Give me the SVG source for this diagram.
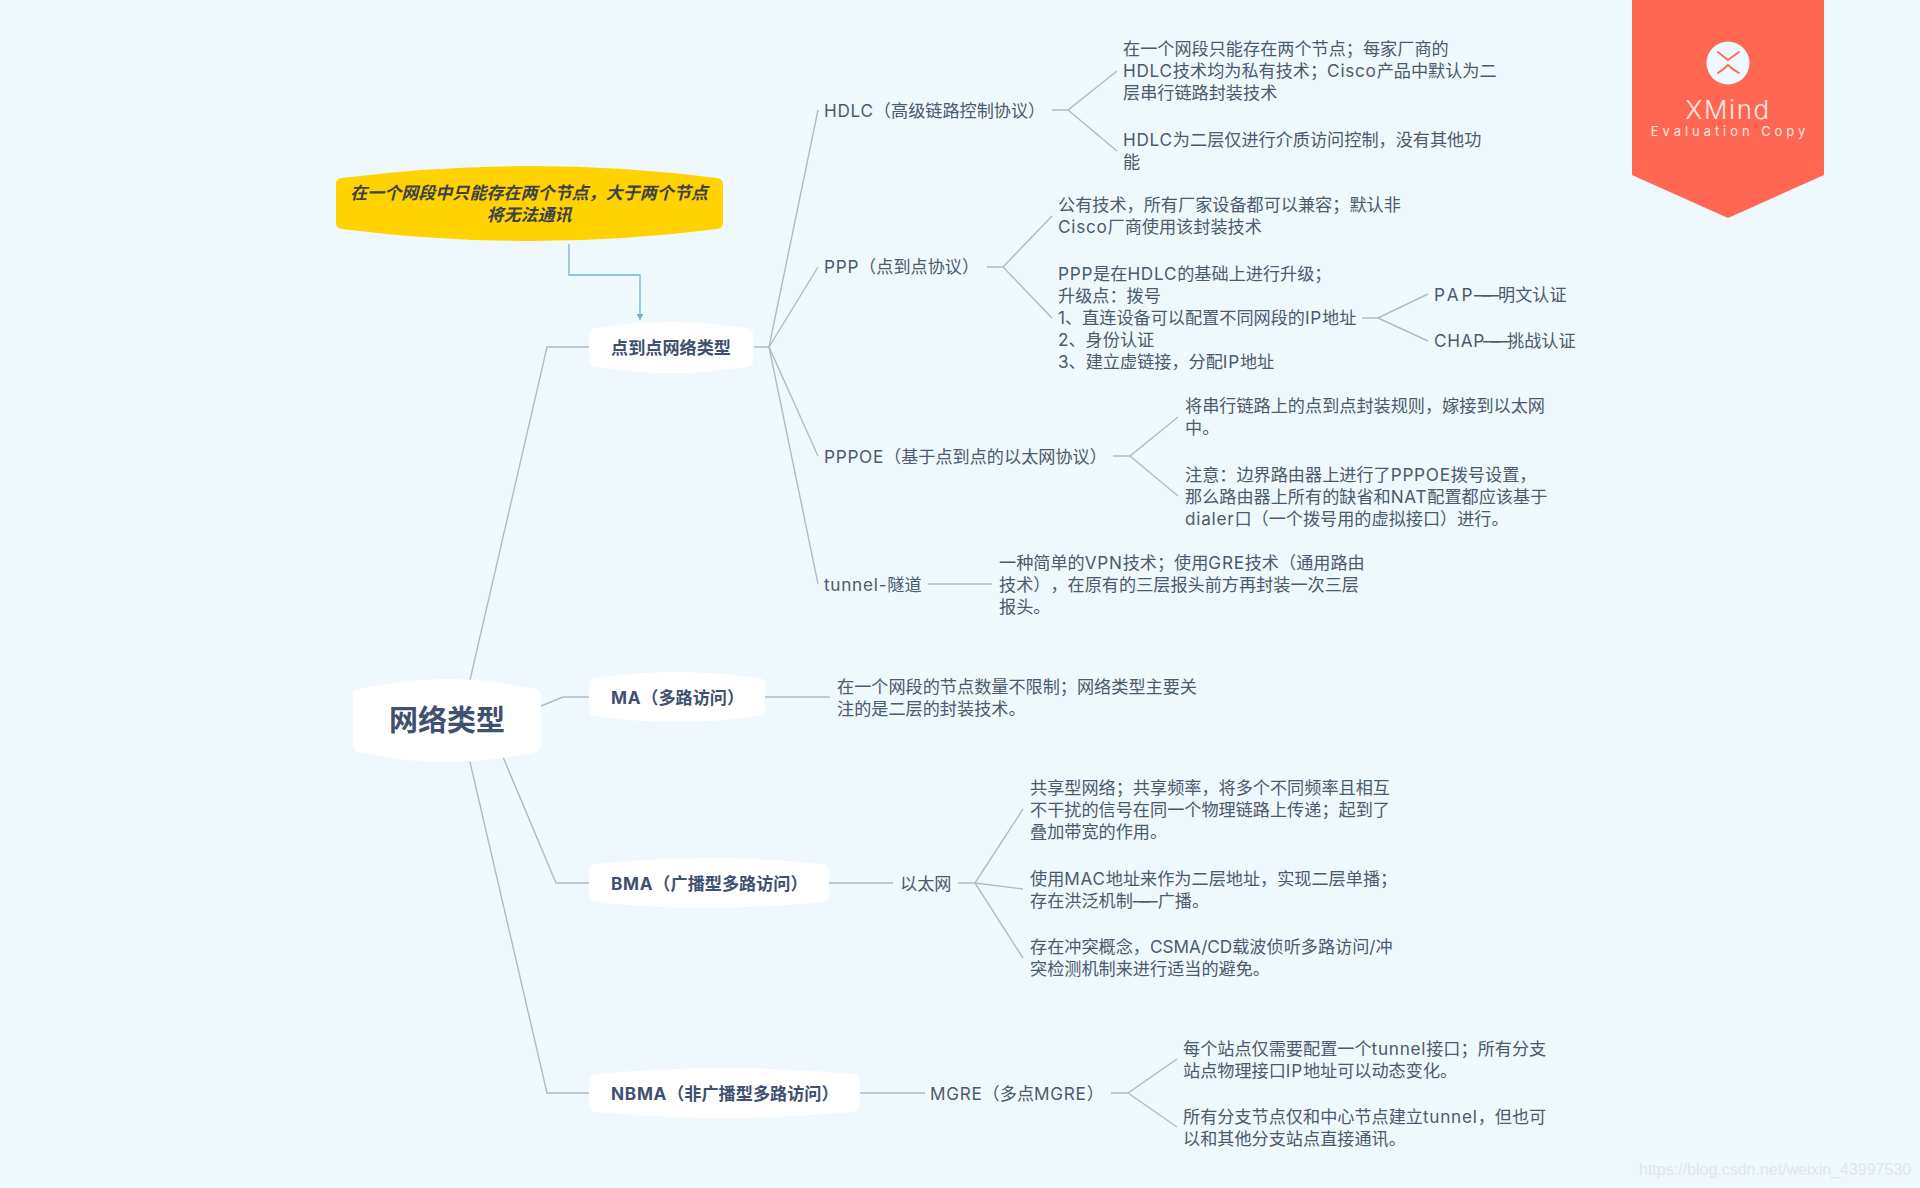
<svg xmlns="http://www.w3.org/2000/svg" width="1920" height="1188" viewBox="0 0 1920 1188">
<defs>
<marker id="arr" markerUnits="userSpaceOnUse" markerWidth="8" markerHeight="8" refX="6" refY="3.5" orient="auto"><path d="M0,0 L6,3.5 L0,7 Z" fill="#6fb2dc"/></marker>
</defs>
<style>
text{font-family:"Inter","Noto Sans CJK SC",sans-serif;text-spacing-trim:space-all}
.t{font-size:17.15px;fill:#4b5a6e}
.m{font-size:17.15px;font-weight:700;fill:#3f5070}
.l{letter-spacing:.75px}
.c{fill:none;stroke:#b0bac5;stroke-width:1.4}
.w{fill:#fff}
</style>
<rect width="1920" height="1188" fill="#eff8fc"/>
<g id="connectors">
<path class="c" d="M470,680 L547,347 H589"/>
<path class="c" d="M541,706 L563,697 H589"/>
<path class="c" d="M503,757 L556,883 H589"/>
<path class="c" d="M470,762 L547,1093 H589"/>
<path class="c" d="M754,347 H769 L818,110"/>
<path class="c" d="M769,347 L818,267"/>
<path class="c" d="M769,347 L818,456"/>
<path class="c" d="M769,347 L818,584"/>
<path class="c" d="M1052,110 H1068 L1117,71"/>
<path class="c" d="M1068,110 L1117,151"/>
<path class="c" d="M987,267 H1003 L1052,216"/>
<path class="c" d="M1003,267 L1052,318"/>
<path class="c" d="M1362,318 H1378 L1428,294"/>
<path class="c" d="M1378,318 L1428,341"/>
<path class="c" d="M1113,456 H1130 L1178,417"/>
<path class="c" d="M1130,456 L1178,496"/>
<path class="c" d="M928,584 H992"/>
<path class="c" d="M765,697 H830"/>
<path class="c" d="M829,883 H893"/>
<path class="c" d="M958,883 H975 L1023,809"/>
<path class="c" d="M975,883 L1023,889"/>
<path class="c" d="M975,883 L1023,958"/>
<path class="c" d="M860,1093 H925"/>
<path class="c" d="M1111,1093 H1128 L1177,1059"/>
<path class="c" d="M1128,1093 L1177,1127"/>
<path d="M569,244 V275 H640 V320" fill="none" stroke="#6fb2dc" stroke-width="1.3" marker-end="url(#arr)"/>
</g>
<g id="callout">
<path d="M336,184 Q336,179 342,178 Q529,154 717,178 Q723,179 723,184 L723,223 Q723,228 717,229 Q529,253 342,229 Q336,228 336,223 Z" fill="#ffd200"/>
<text x="529" y="199" text-anchor="middle" font-size="17.05" font-weight="700" font-style="italic" fill="#3d4148">在一个网段中只能存在两个节点，大于两个节点</text>
<text x="529" y="221" text-anchor="middle" font-size="17.05" font-weight="700" font-style="italic" fill="#3d4148">将无法通讯</text>
</g>
<g id="root">
<path class="w" d="M353,695 Q353,690 359,689 Q447,669 535,689 Q541,690 541,695 L541,746 Q541,751 535,752 Q447,772 359,752 Q353,751 353,746 Z"/>
<text x="447" y="731" text-anchor="middle" font-size="29" font-weight="700" fill="#3f5070">网络类型</text>
</g>
<g id="node-p2p">
<path class="w" d="M589,334 Q589,329 595,328 Q671,316 747,328 Q753,329 753,334 L753,361 Q753,366 747,367 Q671,379 595,367 Q589,366 589,361 Z"/>
<text class="m" x="611" y="354">点到点网络类型</text>
</g>
<g id="node-ma">
<path class="w" d="M589,684 Q589,679 595,678 Q677,666 759,678 Q765,679 765,684 L765,710 Q765,715 759,716 Q677,728 595,716 Q589,715 589,710 Z"/>
<text class="m" x="611" y="704"><tspan class="l">MA</tspan>（多路访问）</text>
</g>
<g id="node-bma">
<path class="w" d="M589,870 Q589,865 595,864 Q709,852 823,864 Q829,865 829,870 L829,896 Q829,901 823,902 Q709,914 595,902 Q589,901 589,896 Z"/>
<text class="m" x="611" y="890"><tspan class="l">BMA</tspan>（广播型多路访问）</text>
</g>
<g id="node-nbma">
<path class="w" d="M589,1080 Q589,1075 595,1074 Q724,1062 854,1074 Q860,1075 860,1080 L860,1106 Q860,1111 854,1112 Q724,1124 595,1112 Q589,1111 589,1106 Z"/>
<text class="m" x="611" y="1100"><tspan class="l">NBMA</tspan>（非广播型多路访问）</text>
</g>
<g id="hdlc"><text class="t" x="824" y="117"><tspan class="l">HDLC</tspan>（高级链路控制协议）</text></g>
<g id="hdlc-1"><text class="t" x="1123" y="55">在一个网段只能存在两个节点；每家厂商的</text><text class="t" x="1123" y="77"><tspan class="l">HDLC</tspan>技术均为私有技术；<tspan class="l">Cisco</tspan>产品中默认为二</text><text class="t" x="1123" y="99">层串行链路封装技术</text></g>
<g id="hdlc-2"><text class="t" x="1123" y="146"><tspan class="l">HDLC</tspan>为二层仅进行介质访问控制，没有其他功</text><text class="t" x="1123" y="168">能</text></g>
<g id="ppp"><text class="t" x="824" y="273"><tspan class="l">PPP</tspan>（点到点协议）</text></g>
<g id="ppp-1"><text class="t" x="1058" y="211">公有技术，所有厂家设备都可以兼容；默认非</text><text class="t" x="1058" y="233"><tspan class="l">Cisco</tspan>厂商使用该封装技术</text></g>
<g id="ppp-2"><text class="t" x="1058" y="280"><tspan class="l">PPP</tspan>是在<tspan class="l">HDLC</tspan>的基础上进行升级；</text><text class="t" x="1058" y="302">升级点：拨号</text><text class="t" x="1058" y="324">1、直连设备可以配置不同网段的<tspan class="l">IP</tspan>地址</text><text class="t" x="1058" y="346">2、身份认证</text><text class="t" x="1058" y="368">3、建立虚链接，分配<tspan class="l">IP</tspan>地址</text></g>
<g id="pap"><text class="t" x="1434" y="301"><tspan letter-spacing="3">PAP</tspan> <tspan x="1474" letter-spacing="-9.5">—</tspan>—<tspan x="1498">明文认证</tspan></text></g>
<g id="chap"><text class="t" x="1434" y="347"><tspan class="l">CHAP</tspan><tspan x="1483" letter-spacing="-9.5">—</tspan>—<tspan x="1507">挑战认证</tspan></text></g>
<g id="pppoe"><text class="t" x="824" y="463"><tspan class="l">PPPOE</tspan>（基于点到点的以太网协议）</text></g>
<g id="pppoe-1"><text class="t" x="1185" y="412">将串行链路上的点到点封装规则，嫁接到以太网</text><text class="t" x="1185" y="434">中。</text></g>
<g id="pppoe-2"><text class="t" x="1185" y="481">注意：边界路由器上进行了<tspan class="l">PPPOE</tspan>拨号设置，</text><text class="t" x="1185" y="503">那么路由器上所有的缺省和<tspan class="l">NAT</tspan>配置都应该基于</text><text class="t" x="1185" y="525"><tspan class="l">dialer</tspan>口（一个拨号用的虚拟接口）进行。</text></g>
<g id="tunnel"><text class="t" x="824" y="591"><tspan class="l">tunnel-</tspan>隧道</text></g>
<g id="tunnel-1"><text class="t" x="999" y="569">一种简单的<tspan class="l">VPN</tspan>技术；使用<tspan class="l">GRE</tspan>技术（通用路由</text><text class="t" x="999" y="591">技术），在原有的三层报头前方再封装一次三层</text><text class="t" x="999" y="613">报头。</text></g>
<g id="ma-1"><text class="t" x="837" y="693">在一个网段的节点数量不限制；网络类型主要关</text><text class="t" x="837" y="715">注的是二层的封装技术。</text></g>
<g id="eth"><text class="t" x="900" y="890">以太网</text></g>
<g id="eth-1"><text class="t" x="1030" y="794">共享型网络；共享频率，将多个不同频率且相互</text><text class="t" x="1030" y="816">不干扰的信号在同一个物理链路上传递；起到了</text><text class="t" x="1030" y="838">叠加带宽的作用。</text></g>
<g id="eth-2"><text class="t" x="1030" y="885">使用<tspan class="l">MAC</tspan>地址来作为二层地址，实现二层单播；</text><text class="t" x="1030" y="907">存在洪泛机制<tspan letter-spacing="-9.5">—</tspan>—广播。</text></g>
<g id="eth-3"><text class="t" x="1030" y="953">存在冲突概念，<tspan>CSMA/CD</tspan>载波侦听多路访问/冲</text><text class="t" x="1030" y="975">突检测机制来进行适当的避免。</text></g>
<g id="mgre"><text class="t" x="930" y="1100"><tspan class="l">MGRE</tspan>（多点<tspan class="l">MGRE</tspan>）</text></g>
<g id="mgre-1"><text class="t" x="1183" y="1055">每个站点仅需要配置一个<tspan class="l">tunnel</tspan>接口；所有分支</text><text class="t" x="1183" y="1077">站点物理接口<tspan class="l">IP</tspan>地址可以动态变化。</text></g>
<g id="mgre-2"><text class="t" x="1183" y="1123">所有分支节点仅和中心节点建立<tspan class="l">tunnel</tspan>，但也可</text><text class="t" x="1183" y="1145">以和其他分支站点直接通讯。</text></g>
<g id="badge">
<polygon points="1632,0 1824,0 1824,175 1728,218 1632,175" fill="#ff6752"/>
<circle cx="1728" cy="63" r="21.5" fill="#eff8fc"/>
<path d="M1718,52 Q1724,57 1728,60 Q1732,57 1739,52 M1718,73 Q1724,69 1728,65 Q1732,69 1739,73" fill="none" stroke="#ff6752" stroke-width="1.8" stroke-linecap="round"/>
<text x="1728" y="119" text-anchor="middle" font-size="26" font-weight="300" letter-spacing="1.6" fill="#fde8e2">XMind</text>
<text x="1730" y="136" text-anchor="middle" font-size="13" letter-spacing="3.95" fill="#fde8e2">Evaluation Copy</text>
</g>
<text x="1639" y="1175" font-size="16" style="font-family:'Liberation Sans',sans-serif" fill="#dfe5e9">https://blog.csdn.net/weixin_43997530</text>
</svg>
